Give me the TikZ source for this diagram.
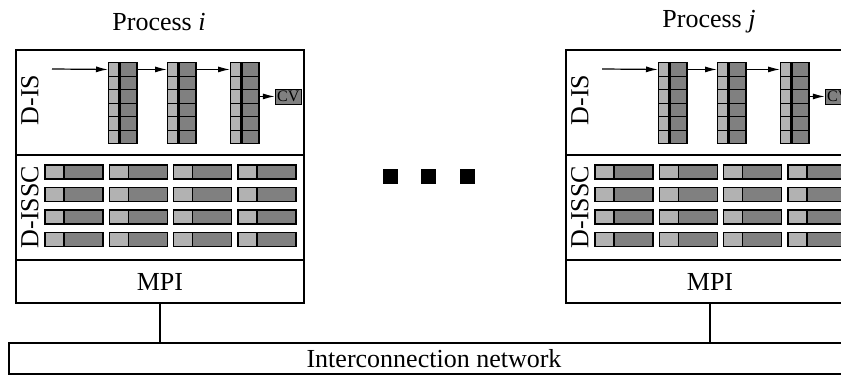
\documentclass[tikz,border=0pt]{standalone}
\usepackage{fontspec}
\setmainfont{Liberation Serif}
\usepackage{xcolor}
\usetikzlibrary{arrows.meta,positioning,calc}
\definecolor{cellA}{gray}{0.70}
\definecolor{cellB}{gray}{0.50}

\begin{document}
\begin{tikzpicture}[x=0.5pt,y=-0.5pt,
    txt/.style={font=\fontsize{13}{15}\selectfont},
    part/.style={draw,line width=1pt,minimum width=144pt,inner sep=0pt,anchor=north west,txt},
    lo/.style={draw,fill=cellA,line width=0.7pt,inner sep=0pt,minimum width=5pt,minimum height=6.75pt,anchor=north west},
    hi/.style={draw,fill=cellB,line width=0.7pt,inner sep=0pt,minimum width=8.5pt,minimum height=6.75pt,anchor=west},
    flow/.style={-{Latex[length=6pt,width=3pt]},line width=0.6pt}]
    \useasboundingbox (0,0) rectangle (841,375);
    \clip (0,0) rectangle (841,375);

    % Interconnection network
    \node[part,minimum width=425pt,minimum height=15.5pt] (net) at (8,342) {Interconnection network};

    % Two processes, the second one shifted right
    \foreach \pn/\dx/\idx in {a/0/i,b/550/j}{
    \begin{scope}[shift={(\dx,0)}]
        % Layers
        \node[part,minimum height=52.5pt] (\pn-is) at (15,49) {};
        \node[part,minimum height=52.5pt] (\pn-ssc) at (15,154) {};
        \node[part,minimum height=21.5pt] (\pn-mpi) at (15,259) {MPI};
        \node[txt] (\pn-title) at (159,22) {Process \textit{\idx}};
        \node[txt,rotate=90] (\pn-islbl) at (30,100) {D-IS};
        \node[txt,rotate=90] (\pn-ssclbl) at (30,207) {D-ISSC};

        % D-IS: three stacks of six cells
        \foreach \cx [count=\c] in {108,167,230}{
            \foreach \r in {0,...,5}{
                \node[lo] (\pn-k\c-\r) at (\cx,62+13.5*\r) {};
                \node[hi] (\pn-d\c-\r) at (\pn-k\c-\r.east) {};
            }
        }
        \coordinate (\pn-in) at (52,69);
        \node[draw,fill=cellB,inner sep=0pt,minimum width=13pt,minimum height=7.5pt,
              font=\fontsize{8}{9}\selectfont,right=7.5pt of \pn-d3-2] (\pn-cv) {CV};
        \draw[flow] (\pn-in) -- (\pn-k1-0.west);
        \draw[flow] (\pn-d1-0.east) -- (\pn-k2-0.west);
        \draw[flow] (\pn-d2-0.east) -- (\pn-k3-0.west);
        \draw[flow] (\pn-d3-2.east) -- (\pn-cv.west);

        % D-ISSC: 4 x 4 bars
        \foreach \r in {0,...,3}{
            \foreach \c in {0,...,3}{
                \filldraw[fill=cellA,line width=0.8pt] (45+64.3*\c,165+22.5*\r) rectangle +(19,14);
                \filldraw[fill=cellB,line width=0.8pt] (64+64.3*\c,165+22.5*\r) rectangle +(39,14);
            }
        }

        % link to the network
        \draw[line width=0.6pt] (\pn-mpi.south) -- (\pn-mpi.south |- net.north);
    \end{scope}
    }

    % Dots between the processes
    \foreach \x in {383,421,460}
        \fill (\x,169) rectangle +(15,15);
\end{tikzpicture}
\end{document}
